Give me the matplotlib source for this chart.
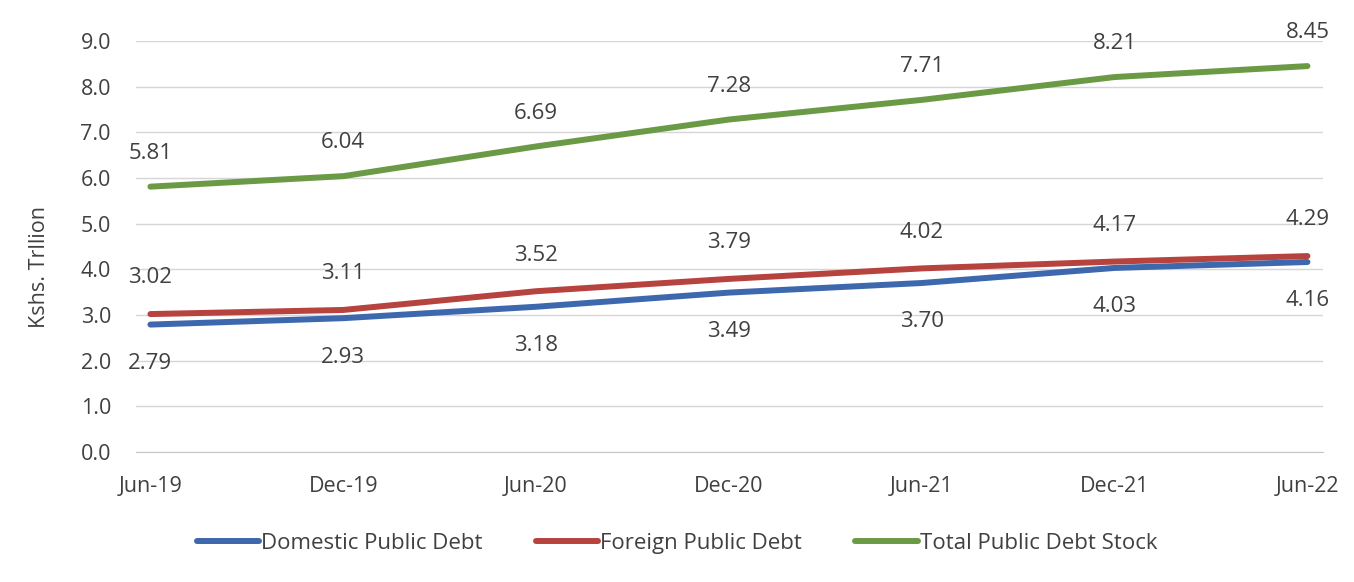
import numpy as np
import matplotlib.pyplot as plt

plt.rcParams['font.family'] = ['Open Sans', 'DejaVu Sans']

periods = ['Jun-19', 'Dec-19', 'Jun-20', 'Dec-20', 'Jun-21', 'Dec-21', 'Jun-22']
domestic = [2.79, 2.93, 3.18, 3.49, 3.70, 4.03, 4.16]
foreign = [3.02, 3.11, 3.52, 3.79, 4.02, 4.17, 4.29]
total = [5.81, 6.04, 6.69, 7.28, 7.71, 8.21, 8.45]

blue = '#3e68ad'
red = '#b7433e'
green = '#6b9a46'
txt = '#404040'

fig = plt.figure(figsize=(13.54, 5.82), dpi=100)
ax = fig.add_axes([0.1004, 0.2234, 0.8766, 0.7062])

x = np.arange(len(periods))
ax.plot(x, domestic, color=blue, lw=4.3, solid_capstyle='round', label='Domestic Public Debt', zorder=3)
ax.plot(x, foreign, color=red, lw=4.3, solid_capstyle='round', label='Foreign Public Debt', zorder=3)
ax.plot(x, total, color=green, lw=4.3, solid_capstyle='round', label='Total Public Debt Stock', zorder=3)

fs = 15.5
for i in x:
    ax.annotate(f'{total[i]:.2f}', (i, total[i]), xytext=(0, 24), textcoords='offset points',
                ha='center', va='center', fontsize=16, color=txt)
    ax.annotate(f'{foreign[i]:.2f}', (i, foreign[i]), xytext=(0, 26), textcoords='offset points',
                ha='center', va='center', fontsize=16, color=txt)
    ax.annotate(f'{domestic[i]:.2f}', (i, domestic[i]), xytext=(0, -28), textcoords='offset points',
                ha='center', va='center', fontsize=16, color=txt)

ax.set_xlim(-0.075, 6.08)
ax.set_ylim(0, 9)
ax.set_yticks(np.arange(0, 9.5, 1.0))
ax.set_yticklabels([f'{v:.1f}' for v in np.arange(0, 9.5, 1.0)])
ax.set_xticks(x)
ax.set_xticklabels(periods)
ax.tick_params(axis='both', length=0, labelsize=fs, labelcolor=txt)
ax.tick_params(axis='x', pad=17)
ax.tick_params(axis='y', pad=18)
ax.grid(axis='y', color='#d6d6d6', lw=1)
ax.set_axisbelow(True)
for s in ['top', 'right', 'left']:
    ax.spines[s].set_visible(False)
ax.spines['bottom'].set_color('#c8c8c8')

ax.set_ylabel('Kshs. Trllion', fontsize=fs, color=txt, fontweight='medium')
ax.yaxis.set_label_coords(-0.072, 0.45)

fig.legend(loc='center', bbox_to_anchor=(0.5, 0.067), ncol=3, frameon=False,
           fontsize=16, handlelength=2.8, handletextpad=0.1, columnspacing=2.4,
           labelcolor=txt)

fig.savefig('out.png', dpi=100, facecolor='white')
